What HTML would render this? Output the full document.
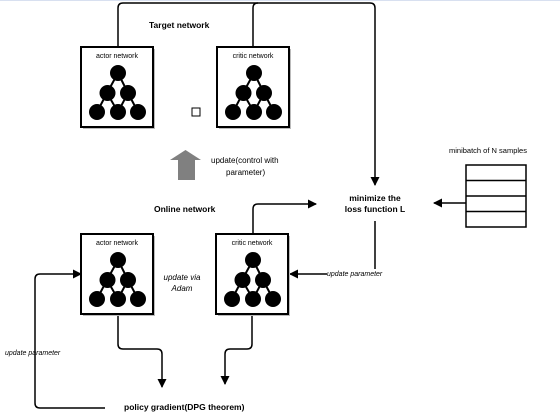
<!DOCTYPE html>
<html><head><style>
body{margin:0;background:#fff}
svg{display:block}
text{font-family:"Liberation Sans",sans-serif}
</style></head><body>
<svg width="560" height="416" viewBox="0 0 560 416">
<defs>
<marker id="a" markerWidth="9" markerHeight="9" refX="8" refY="4.5" orient="auto" markerUnits="userSpaceOnUse"><path d="M0,0 L9,4.5 L0,9 z" fill="#000"/></marker>
<g id="net">
<rect x="2" y="2" width="72" height="80" fill="#bbb"/>
<rect x="0" y="0" width="72" height="80" fill="#fff" stroke="#000" stroke-width="2"/>
<text x="36" y="11" font-size="7" text-anchor="middle">actor network</text>
<g stroke="#000" stroke-width="2"><path d="M37,26 L26,46 L16,65 M37,26 L47,46 L57,65 M26,46 L37,65 M47,46 L37,65"/></g>
<g fill="#000"><circle cx="37" cy="26" r="8"/><circle cx="26.5" cy="46" r="8"/><circle cx="47" cy="46" r="8"/><circle cx="16" cy="65" r="8"/><circle cx="37" cy="65" r="8"/><circle cx="57" cy="65" r="8"/></g>
</g>
<g id="net2">
<rect x="2" y="2" width="72" height="80" fill="#bbb"/>
<rect x="0" y="0" width="72" height="80" fill="#fff" stroke="#000" stroke-width="2"/>
<text x="36" y="11" font-size="7" text-anchor="middle">critic network</text>
<g stroke="#000" stroke-width="2"><path d="M37,26 L26,46 L16,65 M37,26 L47,46 L57,65 M26,46 L37,65 M47,46 L37,65"/></g>
<g fill="#000"><circle cx="37" cy="26" r="8"/><circle cx="26.5" cy="46" r="8"/><circle cx="47" cy="46" r="8"/><circle cx="16" cy="65" r="8"/><circle cx="37" cy="65" r="8"/><circle cx="57" cy="65" r="8"/></g>
</g>
</defs>
<line x1="0" y1="0.5" x2="560" y2="0.5" stroke="#d8e0f0"/>
<g fill="none" stroke="#000" stroke-width="1.5">
<path d="M118,47 V8 Q118,3 123,3 H370 Q375,3 375,8 V185" marker-end="url(#a)"/>
<path d="M253,47 V8 Q253,3 258,3"/>
<path d="M253,234 V209 Q253,204 258,204 H316" marker-end="url(#a)"/>
<path d="M375,221 V274 H290" marker-end="url(#a)"/>
<path d="M466,203 H434" marker-end="url(#a)"/>
<path d="M118,314 V344 Q118,349 123,349 H157 Q162,349 162,354 V387" marker-end="url(#a)"/>
<path d="M252,314 V344 Q252,349 247,349 H230 Q225,349 225,354 V384" marker-end="url(#a)"/>
<path d="M105,408 H40 Q35,408 35,403 V279 Q35,274 40,274 H81" marker-end="url(#a)"/>
</g>
<use href="#net" x="81" y="47"/>
<use href="#net2" x="217" y="47"/>
<use href="#net" x="81" y="234"/>
<use href="#net2" x="216" y="234"/>
<rect x="192" y="108" width="8" height="8" fill="#fff" stroke="#000" stroke-width="1"/>
<path d="M178,180 V160 H170 L185.5,150 L201,160 H195 V180 z" fill="#808080"/>
<rect x="466" y="165" width="60" height="62" fill="#fff" stroke="#000" stroke-width="1.5"/>
<g stroke="#000" stroke-width="1.5"><line x1="466" y1="180.5" x2="526" y2="180.5"/><line x1="466" y1="196" x2="526" y2="196"/><line x1="466" y1="211.5" x2="526" y2="211.5"/></g>
<g font-weight="bold" font-size="8.5">
<text x="149" y="28">Target network</text>
<text x="154" y="212">Online network</text>
<text x="375" y="201" text-anchor="middle">minimize the</text>
<text x="375" y="212" text-anchor="middle">loss function L</text>
<text x="124" y="410">policy gradient(DPG theorem)</text>
</g>
<g font-size="8">
<text x="211" y="163">update(control with</text>
<text x="226" y="175">parameter)</text>
<text x="449" y="153" font-size="7.5">minibatch of N samples</text>
</g>
<rect x="327" y="269" width="58" height="9" fill="#fff"/>
<g font-style="italic" font-size="7">
<text x="182" y="280" text-anchor="middle" font-size="8">update via</text>
<text x="182" y="291" text-anchor="middle" font-size="8">Adam</text>
<text x="327" y="276">update parameter</text>
<text x="5" y="355">update parameter</text>
</g>
</svg>
</body></html>
